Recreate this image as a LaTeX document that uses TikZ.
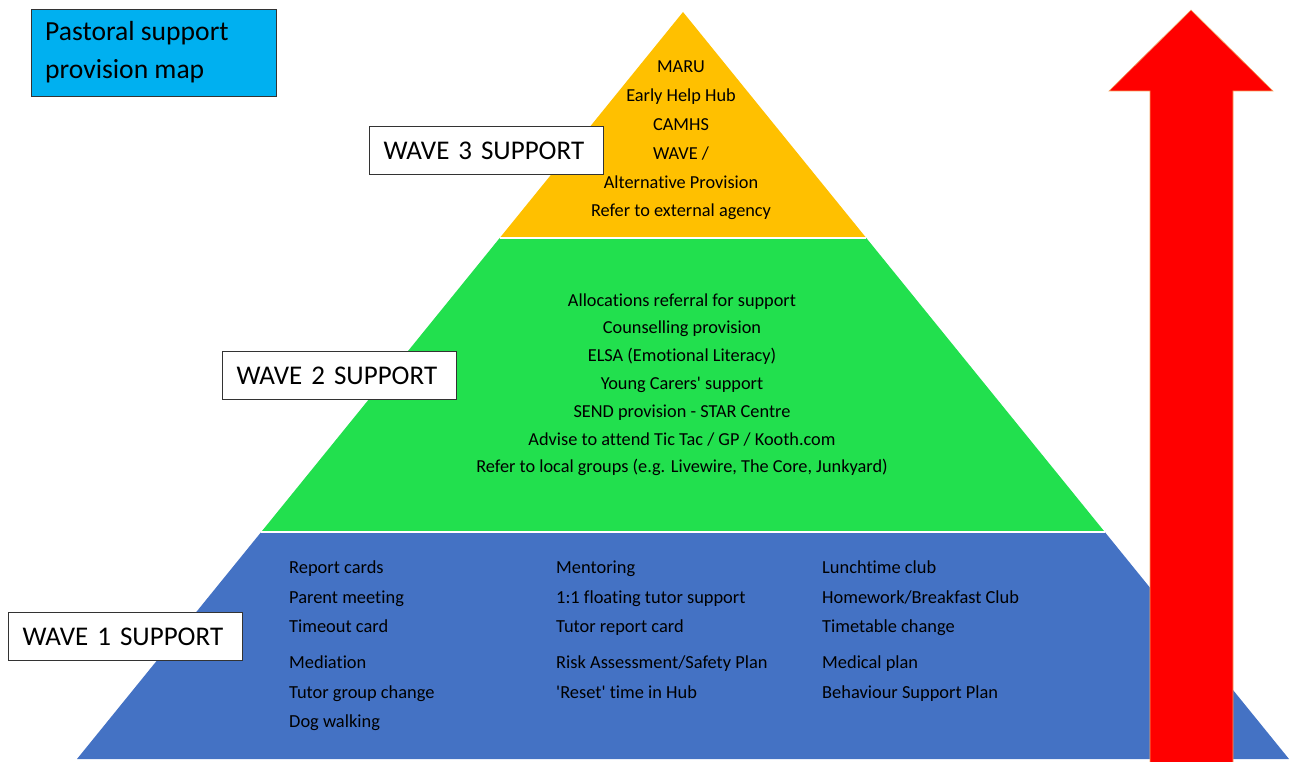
\documentclass[tikz,border=0pt]{standalone}
\usepackage{fontspec}
\setmainfont{Carlito}[Ligatures={NoCommon}]
\definecolor{pyrblue}{HTML}{4472C4}
\definecolor{pyrgreen}{HTML}{22E04E}
\definecolor{pyryellow}{HTML}{FFC000}
\definecolor{titlecyan}{HTML}{00B0F0}
\definecolor{arrowred}{HTML}{FF0000}
\definecolor{arrowedge}{HTML}{F4A460}
\definecolor{boxedge}{HTML}{333333}
\begin{document}
\begin{tikzpicture}[x=1pt,y=-1pt,
  labelbox/.style={draw=boxedge, line width=1.3pt, fill=white, minimum width=234pt,
    minimum height=48pt, inner xsep=14pt, inner ysep=0pt, text width=206pt,
    align=left, font=\fontsize{27}{32}\selectfont, anchor=north west},
  titlebox/.style={draw=boxedge, line width=1.3pt, fill=titlecyan, minimum width=245pt,
    minimum height=87pt, inner sep=0pt, anchor=north west},
  titletext/.style={font=\fontsize{27.6}{32}\selectfont, inner sep=0pt, anchor=base west},
  item/.style={font=\fontsize{18.4}{22}\selectfont, inner sep=0pt, anchor=base west},
  citem/.style={font=\fontsize{18.3}{22}\selectfont, inner sep=0pt, anchor=base},
  layergap/.style={draw=white, line width=1.5pt}
]
\useasboundingbox (0,0) rectangle (1290,762);

% pyramid layers
\coordinate (apex) at (683,12);
\coordinate (yl) at (499.7,238);
\coordinate (yr) at (866.3,238);
\coordinate (gl) at (261.2,532);
\coordinate (gr) at (1104.8,532);
\coordinate (bl) at (77,759);
\coordinate (br) at (1289,759);
\fill[pyrblue] (gl) -- (gr) -- (br) -- (bl) -- cycle;
\fill[pyrgreen] (yl) -- (yr) -- (gr) -- (gl) -- cycle;
\fill[pyryellow] (apex) -- (yr) -- (yl) -- cycle;
\draw[layergap] (yl) -- (yr);
\draw[layergap] (gl) -- (gr);

% red arrow
\fill[arrowred, draw=arrowedge, line width=0.6pt]
  (1191,10) -- (1273,91) -- (1233,91) -- (1233,763) -- (1150,763) -- (1150,91) -- (1109,91) -- cycle;

% title
\node[titlebox] (title) at (31,9) {};
\node[titletext] (title1) at (45,41) {Pastoral support};
\node[titletext] (title2) at (45,79) {provision map};

% wave labels
\node[labelbox] (wave3) at (369,126) {WAVE 3 SUPPORT};
\node[labelbox] (wave2) at (222,351) {WAVE 2 SUPPORT};
\node[labelbox] (wave1) at (8,612) {WAVE 1 SUPPORT};

% wave 3 items
\foreach \t [count=\i] in {MARU, Early Help Hub, CAMHS, WAVE /, Alternative Provision, Refer to external agency}
  \node[citem] (y\i) at (681,{73+28.8*(\i-1)}) {\t};

% wave 2 items
\foreach \t [count=\i] in {Allocations referral for support, Counselling provision,
  ELSA (Emotional Literacy), Young Carers\textquotesingle\ support, SEND provision - STAR Centre,
  Advise to attend Tic Tac / GP / Kooth.com,
  {Refer to local groups (e.g. Livewire, The Core, Junkyard)}}
  \node[citem] (g\i) at (682,{306+27.8*(\i-1)}) {\t};

% wave 1 items
\node[item] (a1) at (289,573) {Report cards};
\node[item] (a2) at (289,603) {Parent meeting};
\node[item] (a3) at (289,632) {Timeout card};
\node[item] (a4) at (289,668) {Mediation};
\node[item] (a5) at (289,698) {Tutor group change};
\node[item] (a6) at (289,727) {Dog walking};

\node[item] (b1) at (556,573) {Mentoring};
\node[item] (b2) at (556,603) {1:1 floating tutor support};
\node[item] (b3) at (556,632) {Tutor report card};
\node[item] (b4) at (556,668) {Risk Assessment/Safety Plan};
\node[item] (b5) at (556,698) {\textquotesingle Reset\textquotesingle\ time in Hub};

\node[item] (c1) at (822,573) {Lunchtime club};
\node[item] (c2) at (822,603) {Homework/Breakfast Club};
\node[item] (c3) at (822,632) {Timetable change};
\node[item] (c4) at (822,668) {Medical plan};
\node[item] (c5) at (822,698) {Behaviour Support Plan};
\end{tikzpicture}
\end{document}
